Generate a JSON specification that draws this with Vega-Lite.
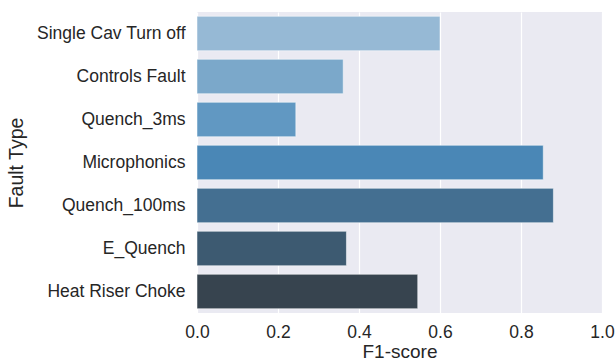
{
  "$schema": "https://vega.github.io/schema/vega-lite/v6.json",
  "width": 405,
  "height": 301,
  "autosize": {"type": "none"},
  "padding": {"left": 197, "top": 12, "right": 14, "bottom": 48},
  "background": "#ffffff",
  "config": {
    "view": {"fill": "#eaeaf2", "stroke": null},
    "font": "Liberation Sans"
  },
  "data": {
    "values": [
      {"fault": "Single Cav Turn off", "f1": 0.600, "color": "#96b9d5"},
      {"fault": "Controls Fault", "f1": 0.361, "color": "#7ba8ca"},
      {"fault": "Quench_3ms", "f1": 0.244, "color": "#6198c2"},
      {"fault": "Microphonics", "f1": 0.855, "color": "#4a87b6"},
      {"fault": "Quench_100ms", "f1": 0.880, "color": "#446f91"},
      {"fault": "E_Quench", "f1": 0.369, "color": "#3d5a71"},
      {"fault": "Heat Riser Choke", "f1": 0.545, "color": "#37444f"}
    ]
  },
  "mark": {"type": "bar", "stroke": "#ffffff", "strokeOpacity": 0.5, "strokeWidth": 1},
  "encoding": {
    "y": {
      "field": "fault",
      "type": "nominal",
      "sort": null,
      "scale": {"paddingInner": 0.2, "paddingOuter": 0.1},
      "axis": {
        "title": "Fault Type",
        "titleFontSize": 19.5,
        "titleFontWeight": "normal",
        "titleColor": "#262626",
        "titlePadding": 10,
        "labelFontSize": 17.5,
        "labelColor": "#262626",
        "labelPadding": 12,
        "ticks": false,
        "domain": false,
        "grid": false
      }
    },
    "x": {
      "field": "f1",
      "type": "quantitative",
      "scale": {"domain": [0, 1], "nice": false},
      "axis": {
        "title": "F1-score",
        "titleFontSize": 19,
        "titleFontWeight": "normal",
        "titleColor": "#262626",
        "titlePadding": 2,
        "labelFontSize": 17.5,
        "labelColor": "#262626",
        "labelPadding": 10,
        "format": ".1f",
        "values": [0, 0.2, 0.4, 0.6, 0.8, 1.0],
        "ticks": false,
        "domain": false,
        "grid": true,
        "gridColor": "#ffffff",
        "gridWidth": 1.2,
        "labelFlush": false
      }
    },
    "color": {"field": "color", "type": "nominal", "scale": null, "legend": null}
  }
}
